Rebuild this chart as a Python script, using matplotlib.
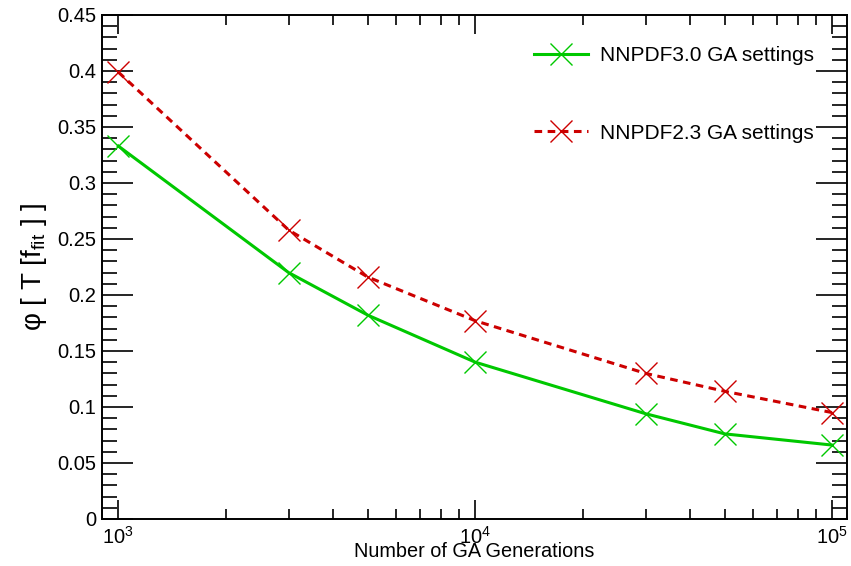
import matplotlib
matplotlib.use("Agg")
import matplotlib.pyplot as plt
from matplotlib.ticker import (LogLocator, MultipleLocator, FixedLocator, FixedFormatter,
                               NullFormatter, FuncFormatter)

plt.rcParams['font.family'] = ['Liberation Sans', 'DejaVu Sans']
plt.rcParams['mathtext.fontset'] = 'custom'
plt.rcParams['mathtext.rm'] = 'Liberation Sans'
plt.rcParams['mathtext.it'] = 'Liberation Sans'

generations = [1000, 3000, 5000, 10000, 30000, 50000, 100000]
nnpdf30 = [0.333, 0.220, 0.182, 0.140, 0.094, 0.076, 0.066]
nnpdf23 = [0.399, 0.258, 0.216, 0.177, 0.130, 0.114, 0.095]
labels = ["NNPDF3.0 GA settings", "NNPDF2.3 GA settings"]
xtick_vals = [1e3, 1e4, 1e5]
xtick_labels = [r'$10^{3}$', r'$10^{4}$', r'$10^{5}$']

green = '#00c800'
red = '#cc0000'

fig = plt.figure(figsize=(8.51, 5.66), dpi=100)
ax = fig.add_axes([102/851, 1 - 519/566, (847 - 102)/851, (519 - 15)/566])

ax.plot(generations, nnpdf30, color=green, lw=2.2, marker='x', ms=16, mew=1.0,
        label=labels[0])
ax.plot(generations, nnpdf23, color=red, lw=2.2, ls=(0, (2.5, 1.8)), marker='x', ms=16,
        mew=1.0, label=labels[1])

ax.set_xscale('log')
ax.set_xlim(900, 1.1e5)
ax.set_ylim(0, 0.45)

ax.xaxis.set_major_locator(FixedLocator(xtick_vals))
ax.xaxis.set_major_formatter(FixedFormatter(xtick_labels))
ax.xaxis.set_minor_locator(LogLocator(base=10, subs=range(2, 10)))
ax.xaxis.set_minor_formatter(NullFormatter())
ax.yaxis.set_major_locator(MultipleLocator(0.05))
ax.yaxis.set_minor_locator(MultipleLocator(0.01))
ax.yaxis.set_major_formatter(FuncFormatter(lambda v, p: '%g' % round(v, 4)))

ax.tick_params(which='both', direction='in', top=True, right=True, width=1.2, colors='black')
ax.tick_params(axis='y', which='major', length=22, labelsize=14.5, pad=4)
ax.tick_params(axis='y', which='minor', length=11)
ax.tick_params(axis='x', which='major', length=14, labelsize=14.5, pad=5)
ax.tick_params(axis='x', which='minor', length=7)
for s in ax.spines.values():
    s.set_linewidth(1.4)

ax.set_xlabel('Number of GA Generations', fontsize=14.3, labelpad=-4)
ax.set_ylabel(r'φ [ T [f$_{\rm fit}$ ] ]', fontsize=20, labelpad=6)

ax.legend(loc='upper left', bbox_to_anchor=(0.555, 0.975), frameon=False, fontsize=15,
          handlelength=2.6, handletextpad=0.58, labelspacing=2.8)

fig.savefig('out.png', dpi=100)
